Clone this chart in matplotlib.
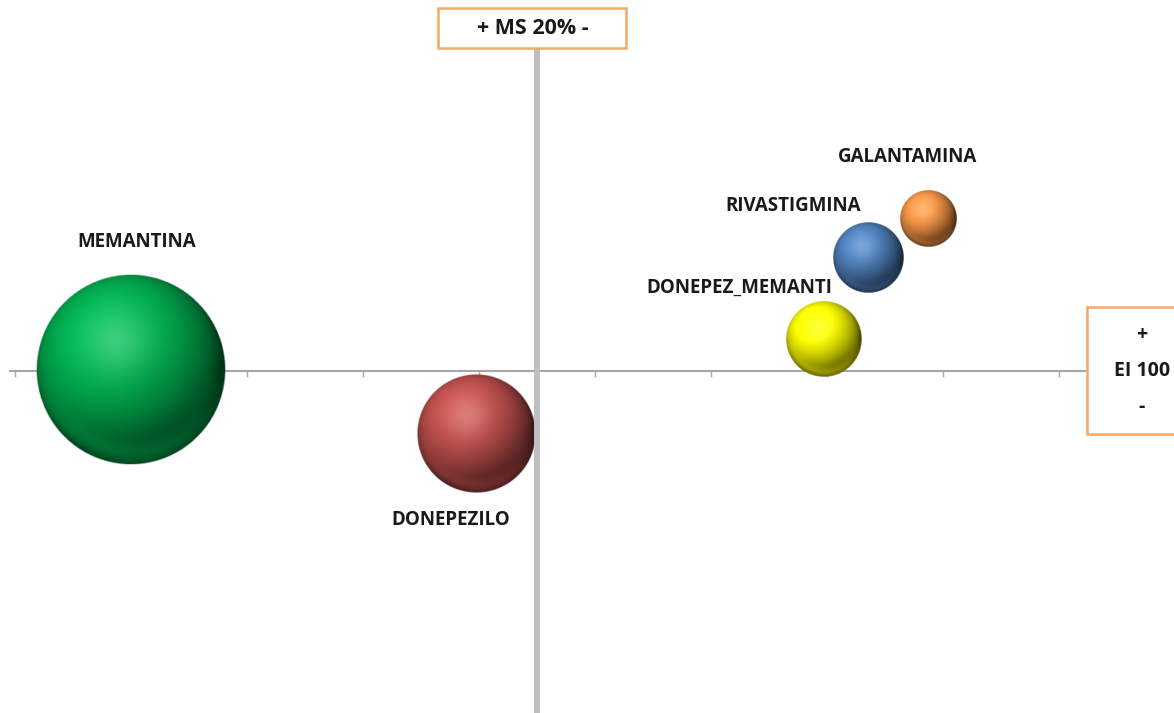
import numpy as np
import matplotlib
matplotlib.use('Agg')
import matplotlib.pyplot as plt
import matplotlib.colors as mcolors
from matplotlib.patches import Rectangle

W, H = 1174, 713

# datos
farmacos = ['MEMANTINA', 'DONEPEZILO', 'DONEPEZ_MEMANTI', 'RIVASTIGMINA', 'GALANTAMINA']
ms = [34.0, 22.1, 10.1, 8.6, 6.5]          # cuota de mercado (%), eje X invertido
ei = [100.2, 89.1, 105.5, 119.5, 126.2]    # indice EI
tamano = [100, 38.6, 16.0, 13.6, 8.7]      # tamano de burbuja
colores = ['#00B050', '#C0504D', '#FFFF00', '#4F81BD', '#F79646']

# desplazamiento de las etiquetas (pixeles) respecto al centro de la burbuja
desplaz = [(6, 128), (-25, -86), (-85, 51), (-74, 52), (-21, 62)]

ms_corte = 20
ei_corte = 100
FUENTE = 'Open Sans'


def esfera(color, n=240):
    """Imagen RGBA de una esfera sombreada."""
    c = np.array(mcolors.to_rgb(color))
    t = np.linspace(-1, 1, n)
    X, Y = np.meshgrid(t, -t)
    R = np.sqrt(X**2 + Y**2)
    Z = np.sqrt(np.clip(1 - R**2, 0, 1))
    L = np.array([-0.3, 0.45, 0.85])
    L = L / np.linalg.norm(L)
    dif = np.clip(X * L[0] + Y * L[1] + Z * L[2], 0, 1)
    spec = np.exp(-((X + 0.15)**2 + (Y - 0.3)**2) / 0.12)
    rim = np.exp(-((R - 0.88) / 0.12)**2) * np.clip(-Y / np.maximum(R, 1e-6), 0, 1)
    rgb = c * (0.3 + 0.8 * dif[..., None])
    rgb = rgb + 0.35 * rim[..., None] * (c * 1.05 - rgb)
    rgb = rgb + 0.22 * spec[..., None] * (1 - rgb)
    rgb = np.clip(rgb, 0, 1)
    alpha = np.clip((1 - R) * n / 2, 0, 1)
    return np.dstack([rgb, alpha])


fig = plt.figure(figsize=(W / 100, H / 100), dpi=100)
ax = fig.add_axes([0, 0, 1, 1])
ax.set_facecolor('white')

xlim = (ms_corte + 537 / 29, ms_corte - (W - 537) / 29)
ylim = (ei_corte - (H - 371) / 5.8, ei_corte + 371 / 5.8)
ax.set_xlim(*xlim)
ax.set_ylim(*ylim)

for s in ['top', 'right']:
    ax.spines[s].set_visible(False)
ax.spines['bottom'].set_position(('data', ei_corte))
ax.spines['left'].set_position(('data', ms_corte))
ax.spines['bottom'].set_bounds(ms_corte + 527 / 29, ms_corte - 548 / 29)
ax.spines['left'].set_bounds(ylim[0], ei_corte + 323 / 5.8)
ax.spines['bottom'].set_color('#a6a6a6')
ax.spines['bottom'].set_linewidth(1.5)
ax.spines['left'].set_color('#bfbfbf')
ax.spines['left'].set_linewidth(4.3)
ax.spines['left'].set_zorder(4)

ax.set_xticks(np.arange(2, 39, 4))
ax.set_yticks([])
ax.tick_params(axis='x', direction='out', length=4.5, width=1, color='#a6a6a6',
               labelbottom=False)

inv = ax.transData.inverted()
rmax = 95
for x, y, s, col, nom, (dx, dy) in zip(ms, ei, tamano, colores, farmacos, desplaz):
    cx, cy = ax.transData.transform((x, y))
    r = rmax * np.sqrt(s / 100)
    x0, y0 = inv.transform((cx - r, cy - r))
    x1, y1 = inv.transform((cx + r, cy + r))
    ax.imshow(esfera(col), extent=(x0, x1, y0, y1), origin='upper',
              aspect='auto', interpolation='bilinear', zorder=3)
    ax.annotate(nom, (x, y), xytext=(dx, dy), textcoords='offset pixels',
                ha='center', va='center', fontsize=13.5, fontweight='bold',
                family=FUENTE, color='#1a1a1a', zorder=5)

ax.set_xlim(*xlim)
ax.set_ylim(*ylim)


def px(x, y):
    return x / W, 1 - y / H


# cajas de los ejes
x0, y0 = px(438, 48)
fig.patches.append(Rectangle((x0, y0), 188 / W, 40 / H, transform=fig.transFigure,
                             facecolor='white', edgecolor='#F4A868', linewidth=1.8, zorder=6))
fig.text(*px(533, 29), '+ MS 20% -', ha='center', va='center', fontsize=15.5,
         fontweight='bold', family=FUENTE, color='#1a1a1a', zorder=7)

x0, y0 = px(1087, 434)
fig.patches.append(Rectangle((x0, y0), 100 / W, 127 / H, transform=fig.transFigure,
                             facecolor='white', edgecolor='#F4A868', linewidth=1.8, zorder=6))
for txt, yy in [('+', 335), ('EI 100', 371), ('-', 407)]:
    fig.text(*px(1142, yy), txt, ha='center', va='center', fontsize=14,
             fontweight='bold', family=FUENTE, color='#1a1a1a', zorder=7)

fig.savefig('out.png', dpi=100)
